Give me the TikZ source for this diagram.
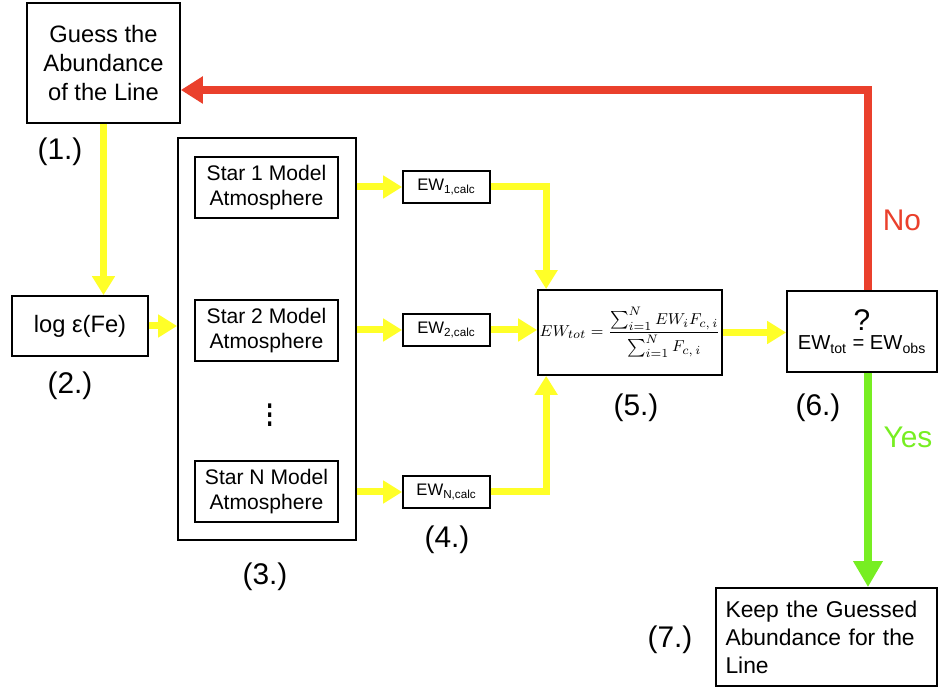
\documentclass[tikz,border=0pt]{standalone}
\usepackage{fontspec}
\setmainfont{Liberation Sans}
\usetikzlibrary{arrows.meta,calc}
\definecolor{yarr}{RGB}{255,255,40}
\definecolor{narr}{RGB}{234,64,44}
\definecolor{garr}{RGB}{119,238,34}
\newcommand{\fs}[2]{\fontsize{#1}{#2}\selectfont}
\begin{document}
\begin{tikzpicture}[x=0.02cm,y=-0.02cm,
    box/.style={draw,line width=1pt,fill=white,align=center,inner sep=0pt},
    lab/.style={font=\fs{17}{20}},
    yarrow/.style={draw=yarr,line width=0.14cm,-{Triangle[width=0.44cm,length=0.38cm]}},
    rarrow/.style={draw=narr,line width=0.16cm,-{Triangle[width=0.52cm,length=0.44cm]}},
    garrow/.style={draw=garr,line width=0.16cm,-{Triangle[width=0.56cm,length=0.52cm]}}]
    \useasboundingbox (0,0) rectangle (941,688);
    \node[box,minimum width=3.06cm,minimum height=2.4cm,font=\fs{13.5}{16.3}] (guess) at (103.5,63) {Guess the\\Abundance\\of the Line};
    \node[box,minimum width=2.72cm,minimum height=1.2cm,font=\fs{13.5}{16}] (log) at (80,326) {log ε(Fe)};
    \node[box,minimum width=3.56cm,minimum height=8.04cm] (models) at (267,339) {};
    \node[box,minimum width=2.86cm,minimum height=1.22cm,font=\fs{12}{14}] (star1) at (266.5,187.5) {Star 1 Model\\Atmosphere};
    \node[box,minimum width=2.86cm,minimum height=1.22cm,font=\fs{12}{14}] (star2) at (266.5,330.5) {Star 2 Model\\Atmosphere};
    \node[font=\fs{19}{20},yscale=1.3] (dots) at (270,408) {$\vdots$};
    \node[box,minimum width=2.86cm,minimum height=1.22cm,font=\fs{12}{14}] (starN) at (266.5,491.5) {Star N Model\\Atmosphere};
    \node[box,minimum width=1.74cm,minimum height=0.64cm,font=\fs{9.5}{11}] (ew1) at (446.5,187) {EW\textsubscript{1,calc}};
    \node[box,minimum width=1.74cm,minimum height=0.64cm,font=\fs{9.5}{11}] (ew2) at (446.5,330) {EW\textsubscript{2,calc}};
    \node[box,minimum width=1.74cm,minimum height=0.64cm,font=\fs{9.5}{11}] (ewN) at (446.5,492) {EW\textsubscript{N,calc}};
    \node[box,minimum width=3.68cm,minimum height=1.7cm,font=\fs{9.4}{12}] (sum) at (630,332.5) {$\displaystyle EW_{tot}=\frac{\sum_{i=1}^{N}EW_iF_{c,\,i}}{\sum_{i=1}^{N}F_{c,\,i}}$};
    \node[box,minimum width=3.0cm,minimum height=1.62cm,font=\fs{11.5}{11}] (check) at (862,331.5) {{\fs{17}{14}?}\\EW\textsubscript{tot} = EW\textsubscript{obs}};
    \node[box,minimum width=4.42cm,minimum height=1.96cm,text width=4.04cm,inner xsep=0.19cm,align=left,font=\fs{13}{16}] (keep) at (826.5,637) {Keep the Guessed\\Abundance for the\\Line};
    \node[lab] (l1) at (60,152) {(1.)};
    \node[lab] (l2) at (70,386) {(2.)};
    \node[lab] (l3) at (265,577) {(3.)};
    \node[lab] (l4) at (447,540) {(4.)};
    \node[lab] (l5) at (636,408) {(5.)};
    \node[lab] (l6) at (818,408) {(6.)};
    \node[lab] (l7) at (670,640) {(7.)};
    \node[lab,text=narr] (no) at (902,220) {No};
    \node[lab,text=garr] (yes) at (908,437) {Yes};
    \draw[yarrow] (guess.south) -- (guess.south |- log.north);
    \draw[yarrow] (log.east) -- (models.west |- log);
    \draw[yarrow] (models.east |- ew1) -- (ew1.west);
    \draw[yarrow] (models.east |- ew2) -- (ew2.west);
    \draw[yarrow] (models.east |- ewN) -- (ewN.west);
    \draw[yarrow] (ew1.east) -| ($(sum.north west)+(9,0)$);
    \draw[yarrow] (ew2.east) -- (sum.west |- ew2);
    \draw[yarrow] (ewN.east) -| ($(sum.south west)+(9,0)$);
    \draw[yarrow] (sum.east) -- (check.west |- sum);
    \coordinate (rbot) at ($(check.north)+(6,0)$);
    \coordinate (rend) at ($(guess.east)+(0,27)$);
    \draw[rarrow] (rbot) |- (rend);
    \coordinate (gtop) at ($(check.south)+(6,0)$);
    \draw[garrow] (gtop) -- (gtop |- keep.north);
\end{tikzpicture}
\end{document}
